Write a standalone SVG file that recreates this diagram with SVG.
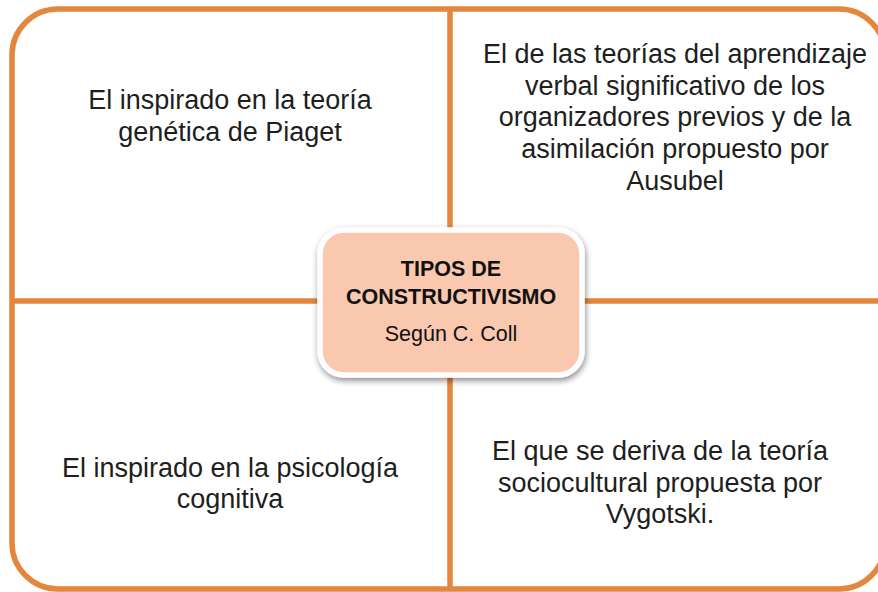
<svg xmlns="http://www.w3.org/2000/svg" width="878" height="592" viewBox="0 0 878 592">
<style>
.frame{fill:none;stroke:#E2873D;stroke-width:5.5}
.t{font-family:"Liberation Sans",Arial,sans-serif;font-size:27px;fill:#1e1e1e;text-anchor:middle}
.c{font-family:"Liberation Sans",Arial,sans-serif;font-size:21.5px;fill:#111;text-anchor:middle}
</style>
<defs>
<filter id="sh" x="-20%" y="-20%" width="140%" height="150%">
<feGaussianBlur in="SourceAlpha" stdDeviation="3"/>
<feOffset dx="1" dy="3" result="b"/>
<feComponentTransfer><feFuncA type="linear" slope="0.45"/></feComponentTransfer>
<feMerge><feMergeNode/><feMergeNode in="SourceGraphic"/></feMerge>
</filter>
</defs>
<rect width="878" height="592" fill="#fff"/>
<g id="connectors">
<rect class="frame" x="12" y="9" width="873" height="580" rx="46" ry="46"/>
<line class="frame" x1="450" y1="9" x2="450" y2="589"/>
<line class="frame" x1="12" y1="301" x2="885" y2="301"/>
</g>
<g id="q1">
<text class="t" x="230" y="109">El inspirado en la teoría</text>
<text class="t" x="230" y="141">genética de Piaget</text>
</g>
<g id="q2">
<text class="t" x="675" y="63">El de las teorías del aprendizaje</text>
<text class="t" x="675" y="95">verbal significativo de los</text>
<text class="t" x="675" y="126">organizadores previos y de la</text>
<text class="t" x="675" y="158">asimilación propuesto por</text>
<text class="t" x="675" y="190">Ausubel</text>
</g>
<g id="q3">
<text class="t" x="230" y="477">El inspirado en la psicología</text>
<text class="t" x="230" y="508">cognitiva</text>
</g>
<g id="q4">
<text class="t" x="660" y="460">El que se deriva de la teoría</text>
<text class="t" x="660" y="492">sociocultural propuesta por</text>
<text class="t" x="660" y="523">Vygotski.</text>
</g>
<g id="center">
<rect x="320" y="230" width="262" height="145" rx="24" ry="24" fill="#F9C8AF" stroke="#fff" stroke-width="5.5" filter="url(#sh)"/>
<text class="c" x="451" y="276" font-weight="bold">TIPOS DE</text>
<text class="c" x="451" y="304" font-weight="bold">CONSTRUCTIVISMO</text>
<text class="c" x="451" y="341" font-size="22px">Según C. Coll</text>
</g>
</svg>
